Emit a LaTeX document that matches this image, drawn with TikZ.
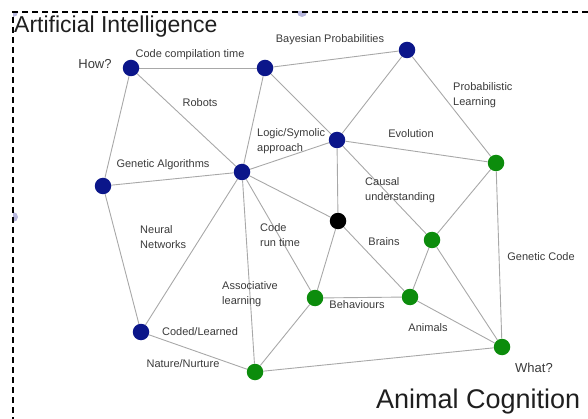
\documentclass[tikz,border=0pt]{standalone}
\usepackage{fontspec}
\setmainfont{Liberation Sans}
\usetikzlibrary{backgrounds}
\definecolor{navy}{HTML}{0B168A}
\definecolor{grn}{HTML}{0C8C0C}
\definecolor{edgec}{HTML}{A8A8A8}
\definecolor{lbl}{HTML}{3A3A3A}
\definecolor{handle}{HTML}{B8B8DE}
\begin{document}
\begin{tikzpicture}[x=1pt,y=-1pt,
  dotb/.style={circle,fill=navy,minimum size=16.5pt,inner sep=0pt},
  dotg/.style={circle,fill=grn,minimum size=16.5pt,inner sep=0pt},
  dotk/.style={circle,fill=black,minimum size=16.5pt,inner sep=0pt},
  link/.style={draw=edgec,line width=0.9pt},
  lab/.style={font=\fontsize{11}{15}\selectfont,text=lbl,inner sep=0pt},
  mlab/.style={lab,align=left,anchor=west},
  qlab/.style={font=\fontsize{13}{15}\selectfont,text=lbl,inner sep=0pt},
  title/.style={text=black!88,inner sep=0pt,anchor=base west}]
\useasboundingbox (0,0) rectangle (588,419);
% selection handles
\begin{scope}
\clip (13,12) rectangle (588,419);
\fill[handle] (13,12) circle[radius=5pt];
\fill[handle] (302,12) circle[radius=5pt];
\fill[handle] (13,217) circle[radius=5pt];
\end{scope}
\draw[dash pattern=on 6pt off 4pt,line width=1.2pt] (588,12) -- (13,12) -- (13,419);
% nodes
\node[dotb] (A) at (131,68) {};
\node[dotb] (B) at (265,68) {};
\node[dotb] (C) at (407,50) {};
\node[dotb] (D) at (103,186) {};
\node[dotb] (E) at (242,172) {};
\node[dotb] (F) at (337,140) {};
\node[dotg] (G) at (496,163) {};
\node[dotk] (H) at (338,221) {};
\node[dotg] (I) at (432,240) {};
\node[dotb] (J) at (141,332) {};
\node[dotg] (K) at (315,298) {};
\node[dotg] (L) at (410,297) {};
\node[dotg] (M) at (502,347) {};
\node[dotg] (N) at (255,372) {};
% edges
\begin{pgfonlayer}{background}
\foreach \a/\b in {A/B,B/C,A/D,A/E,B/E,B/F,C/F,C/G,D/E,E/F,F/G,F/H,F/I,E/H,D/J,E/J,E/K,E/N,H/K,H/L,G/I,G/M,I/L,I/M,K/L,K/N,L/M,J/N,N/M}
  \draw[link] (\a) -- (\b);
\end{pgfonlayer}
% labels
\node[title,font=\fontsize{23}{27}\selectfont] (t1) at (14,33) {Artificial Intelligence};
\node[title,font=\fontsize{27}{30}\selectfont] (t2) at (376,408) {Animal Cognition};
\node[qlab] (lhow) at (95,64) {How?};
\node[qlab] (lwhat) at (534,368) {What?};
\node[lab] (l1) at (190,55) {Code compilation time};
\node[lab] (l2) at (330,40) {Bayesian Probabilities};
\node[lab] (l3) at (200,103) {Robots};
\node[mlab] (l4) at (257,141) {Logic/Symolic\\approach};
\node[mlab] (l5) at (453,95.5) {Probabilistic\\Learning};
\node[lab] (l6) at (411,134) {Evolution};
\node[lab] (l7) at (163,165) {Genetic Algorithms};
\node[mlab] (l8) at (140,237.5) {Neural\\Networks};
\node[mlab] (l9) at (260,235.5) {Code\\run time};
\node[mlab] (l10) at (365,190.5) {Causal\\understanding};
\node[lab] (l11) at (384,242) {Brains};
\node[lab] (l12) at (541,257) {Genetic Code};
\node[mlab] (l13) at (222,294.5) {Associative\\learning};
\node[lab] (l14) at (200,332) {Coded/Learned};
\node[lab] (l15) at (183,364) {Nature/Nurture};
\node[lab] (l16) at (357,305) {Behaviours};
\node[lab] (l17) at (428,328) {Animals};
\end{tikzpicture}
\end{document}
